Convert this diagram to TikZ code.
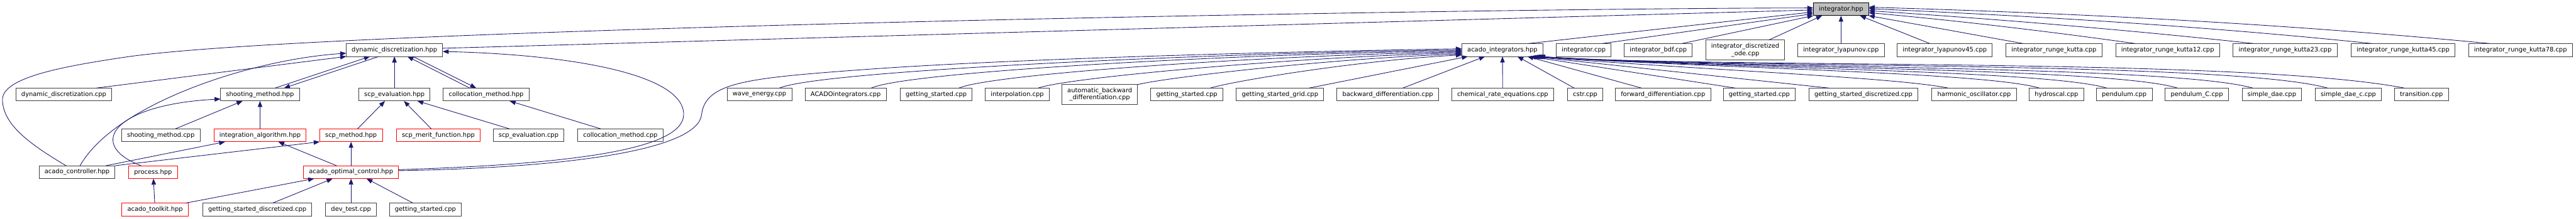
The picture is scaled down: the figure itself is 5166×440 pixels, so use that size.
\documentclass[tikz,border=0pt]{standalone}
\usepackage{fontspec}
\setmainfont{DejaVu Sans}
\usetikzlibrary{arrows.meta}
\definecolor{edgeblue}{RGB}{25,25,112}

\begin{document}
\begin{tikzpicture}[
        x=1pt, y=1pt,
        file/.style={
            rectangle,
            draw=black!75,
            fill=white,
            line width=1.2pt,
            align=center,
            font=\fontsize{12.5}{14.5}\selectfont,
            minimum height=26pt,
            inner xsep=11pt,
            inner ysep=2pt,
            outer sep=0pt
        },
        twoline/.style={file, minimum height=40pt},
        redfile/.style={file, draw=red},
        current/.style={file, draw=black, fill=black!25},
        dep/.style={
            draw=edgeblue,
            line width=1.1pt,
            -{Triangle[length=12pt,width=9pt]}
        }
    ]

        \useasboundingbox (0,0) rectangle (5166,440);

        \node[current] (integhpp) at (3692,421.5) {integrator.hpp};

        \node[file] (ddhpp) at (791,339.5) {dynamic\_discretization.hpp};
        \node[file] (aihpp) at (3013,339.5) {acado\_integrators.hpp};
        \node[file] (icpp) at (3176,339.5) {integrator.cpp};
        \node[file] (ibdfcpp) at (3325.5,339.5) {integrator\_bdf.cpp};
        \node[twoline] (idodecpp) at (3500,339.5) {integrator\_discretized\\\_ode.cpp};
        \node[file] (ilyacpp) at (3692,339.5) {integrator\_lyapunov.cpp};
        \node[file] (ilya45cpp) at (3900,339.5) {integrator\_lyapunov45.cpp};
        \node[file] (irkcpp) at (4119,339.5) {integrator\_runge\_kutta.cpp};
        \node[file] (irk12cpp) at (4347,339.5) {integrator\_runge\_kutta12.cpp};
        \node[file] (irk23cpp) at (4582.5,339.5) {integrator\_runge\_kutta23.cpp};
        \node[file] (irk45cpp) at (4819,339.5) {integrator\_runge\_kutta45.cpp};
        \node[file] (irk78cpp) at (5054.5,339.5) {integrator\_runge\_kutta78.cpp};

        \node[file] (ddcpp) at (128,250) {dynamic\_discretization.cpp};
        \node[file] (smhpp) at (521.5,250) {shooting\_method.hpp};
        \node[file] (sehpp) at (791,250) {scp\_evaluation.hpp};
        \node[file] (cmhpp) at (975,250) {collocation\_method.hpp};
        \node[file] (wavecpp) at (1523,250) {wave\_energy.cpp};
        \node[file] (acadoicpp) at (1696,250) {ACADOintegrators.cpp};
        \node[file] (gsacpp) at (1877.5,250) {getting\_started.cpp};
        \node[file] (interpcpp) at (2040,250) {interpolation.cpp};
        \node[twoline] (abdcpp) at (2205.5,250) {automatic\_backward\\\_differentiation.cpp};
        \node[file] (gsbcpp) at (2380,250) {getting\_started.cpp};
        \node[file] (gsgridcpp) at (2567,250) {getting\_started\_grid.cpp};
        \node[file] (bdcpp) at (2783,250) {backward\_differentiation.cpp};
        \node[file] (chemcpp) at (3013.5,250) {chemical\_rate\_equations.cpp};
        \node[file] (cstrcpp) at (3179,250) {cstr.cpp};
        \node[file] (fdcpp) at (3335,250) {forward\_differentiation.cpp};
        \node[file] (gsccpp) at (3528,250) {getting\_started.cpp};
        \node[file] (gsdacpp) at (3737,250) {getting\_started\_discretized.cpp};
        \node[file] (harmcpp) at (3959,250) {harmonic\_oscillator.cpp};
        \node[file] (hydrocpp) at (4124,250) {hydroscal.cpp};
        \node[file] (pendcpp) at (4260,250) {pendulum.cpp};
        \node[file] (pendccpp) at (4405.5,250) {pendulum\_C.cpp};
        \node[file] (sdaecpp) at (4556,250) {simple\_dae.cpp};
        \node[file] (sdaeccpp) at (4709.5,250) {simple\_dae\_c.cpp};
        \node[file] (transcpp) at (4856,250) {transition.cpp};

        \node[file] (smcpp) at (322.5,168) {shooting\_method.cpp};
        \node[redfile] (iahpp) at (521.5,168) {integration\_algorithm.hpp};
        \node[redfile] (smethhpp) at (704,168) {scp\_method.hpp};
        \node[redfile] (smerithpp) at (879,168) {scp\_merit\_function.hpp};
        \node[file] (secpp) at (1060,168) {scp\_evaluation.cpp};
        \node[file] (cmcpp) at (1244,168) {collocation\_method.cpp};

        \node[file] (achpp) at (154.5,94) {acado\_controller.hpp};
        \node[redfile] (prochpp) at (307,94) {process.hpp};
        \node[redfile] (aochpp) at (704,94) {acado\_optimal\_control.hpp};

        \node[redfile] (atkhpp) at (311,19) {acado\_toolkit.hpp};
        \node[file] (gsdbcpp) at (516,19) {getting\_started\_discretized.cpp};
        \node[file] (devcpp) at (704,19) {dev\_test.cpp};
        \node[file] (gsdcpp) at (853,19) {getting\_started.cpp};

        \draw[dep] ([xshift=-22pt]achpp.north) .. controls (60,150) and (5,190) .. (5,240)
            .. controls (5,285) and (130,307) .. (250,325)
            .. controls (650,385) and (3036,424) .. ([yshift=2.5pt]integhpp.west);
        \draw[dep] ([yshift=3.5pt]ddhpp.east) -- ([yshift=-1.5pt]integhpp.west);
        \draw[dep] ([xshift=52pt]aihpp.north) -- ([yshift=-5.5pt]integhpp.west);
        \draw[dep] ([xshift=37pt]icpp.north) -- ([yshift=-9pt]integhpp.west);
        \draw[dep] ([xshift=47.5pt]ibdfcpp.north) -- (integhpp.south west);
        \draw[dep] ([xshift=47pt]idodecpp.north) -- ([xshift=-38pt]integhpp.south);
        \draw[dep] (ilyacpp) -- (integhpp);
        \draw[dep] ([xshift=-30pt]ilya45cpp.north) -- ([xshift=38pt]integhpp.south);
        \draw[dep] ([xshift=-62pt]irkcpp.north) -- (integhpp.south east);
        \draw[dep] ([xshift=-65pt]irk12cpp.north) .. controls +(-178,25) and +(178,-16) .. ([yshift=-7pt]integhpp.east);
        \draw[dep] ([xshift=-63pt]irk23cpp.north) .. controls +(-257,28) and +(257,-17) .. ([yshift=-3pt]integhpp.east);
        \draw[dep] ([xshift=-62pt]irk45cpp.north) .. controls +(-336,35) and +(336,-15) .. ([yshift=1pt]integhpp.east);
        \draw[dep] ([xshift=-61.5pt]irk78cpp.north) .. controls +(-415,40) and +(415,-12) .. ([yshift=4pt]integhpp.east);

        \draw[dep] ([yshift=3pt]aochpp.east) .. controls (1150,103) and (1400,140) .. (1407,210)
            .. controls (1415,275) and (1500,283) .. (1730,300)
            .. controls (2000,320) and (2500,335) .. ([yshift=2.5pt]aihpp.west);
        \draw[dep] ([xshift=40pt]wavecpp.north) .. controls +(87,37) and +(-430,-4) .. (aihpp.west);
        \draw[dep] ([xshift=51pt]acadoicpp.north) .. controls +(80,35) and +(-400,-4) .. ([yshift=-2pt]aihpp.west);
        \draw[dep] ([xshift=45.5pt]gsacpp.north) .. controls +(70,30) and +(-350,-5) .. ([yshift=-4pt]aihpp.west);
        \draw[dep] ([xshift=42pt]interpcpp.north) .. controls +(60,22) and +(-300,-6) .. ([yshift=-6pt]aihpp.west);
        \draw[dep] (abdcpp.north east) .. controls +(60,15) and +(-250,-8) .. ([yshift=-8pt]aihpp.west);
        \draw[dep] ([xshift=47pt]gsbcpp.north) .. controls +(50,15) and +(-200,-10) .. ([yshift=-10pt]aihpp.west);
        \draw[dep] ([xshift=58pt]gsgridcpp.north) -- ([xshift=12pt]aihpp.south west);
        \draw[dep] ([xshift=30pt]bdcpp.north) -- ([xshift=-35pt]aihpp.south);
        \draw[dep] (chemcpp) -- (aihpp);
        \draw[dep] ([xshift=-22pt]cstrcpp.north) -- ([xshift=30pt]aihpp.south);
        \draw[dep] ([xshift=-43pt]fdcpp.north) -- ([xshift=50pt]aihpp.south);
        \draw[dep] ([xshift=-48pt]gsccpp.north) -- ([xshift=55pt]aihpp.south);
        \draw[dep] ([xshift=-69pt]gsdacpp.north) -- ([xshift=59pt]aihpp.south);
        \draw[dep] ([xshift=-52pt]harmcpp.north) .. controls (3800,285) and (3400,300) .. ([xshift=62pt]aihpp.south);
        \draw[dep] ([xshift=-34pt]hydrocpp.north) .. controls (3980,295) and (3450,302) .. ([xshift=64pt]aihpp.south);
        \draw[dep] ([xshift=-35pt]pendcpp.north) .. controls (4100,300) and (3450,302) .. ([xshift=66pt]aihpp.south);
        \draw[dep] ([xshift=-38.5pt]pendccpp.north) .. controls (4230,305) and (3450,302) .. ([xshift=68pt]aihpp.south);
        \draw[dep] ([xshift=-38pt]sdaecpp.north) .. controls (4350,310) and (3450,302) .. ([xshift=70pt]aihpp.south);
        \draw[dep] ([xshift=-41.5pt]sdaeccpp.north) .. controls (4470,318) and (3450,302) .. ([xshift=72pt]aihpp.south);
        \draw[dep] ([xshift=-34pt]transcpp.north) .. controls (4500,325) and (3450,302) .. ([xshift=74pt]aihpp.south);

        \draw[dep] ([xshift=6pt]achpp.north) .. controls (230,230) and (500,320) .. ([yshift=-6.5pt]ddhpp.west);
        \draw[dep] ([xshift=65pt]ddcpp.north) -- (ddhpp.south west);
        \draw[dep] ([xshift=-24pt]prochpp.north) .. controls (170,150) and (230,230) .. ([yshift=-9pt]smhpp.west);
        \draw[dep] ([xshift=29pt]smcpp.north) -- ([xshift=-35pt]smhpp.south);
        \draw[dep] ([xshift=58pt]achpp.north) -- ([xshift=-70pt]iahpp.south);
        \draw[dep] (achpp.north east) -- (smethhpp.south west);
        \draw[dep] (iahpp) -- (smhpp);
        \draw[dep] ([xshift=30pt]smhpp.north) -- ([xshift=-49pt]ddhpp.south);
        \draw[dep] ([xshift=-31pt]ddhpp.south) -- ([xshift=48pt]smhpp.north);
        \draw[dep] (sehpp) -- (ddhpp);
        \draw[dep] ([xshift=-33pt]cmhpp.north) -- ([xshift=26pt]ddhpp.south);
        \draw[dep] ([xshift=37pt]ddhpp.south) -- ([xshift=-20pt]cmhpp.north);
        \draw[dep] ([xshift=13pt]smethhpp.north) -- ([xshift=-19pt]sehpp.south);
        \draw[dep] ([xshift=-14pt]smerithpp.north) -- ([xshift=19pt]sehpp.south);
        \draw[dep] ([xshift=-38pt]secpp.north) -- ([xshift=46pt]sehpp.south);
        \draw[dep] ([xshift=-39pt]cmcpp.north) -- ([xshift=47pt]cmhpp.south);
        \draw[dep] ([xshift=-29pt]aochpp.north) -- ([xshift=36.5pt]iahpp.south);
        \draw[dep] (aochpp) -- (smethhpp);
        \draw[dep] ([yshift=5pt]aochpp.east) .. controls (1150,110) and (1371,140) .. (1371,210)
            .. controls (1371,290) and (1150,330) .. ([yshift=-3pt]ddhpp.east);
        \draw[dep] ([xshift=62pt]atkhpp.north) -- ([xshift=-74pt]aochpp.south);
        \draw[dep] ([xshift=31pt]gsdbcpp.north) -- ([xshift=-37pt]aochpp.south);
        \draw[dep] (devcpp) -- (aochpp);
        \draw[dep] ([xshift=-25pt]gsdcpp.north) -- ([xshift=31pt]aochpp.south);
        \draw[dep] (atkhpp) -- (prochpp);

    \end{tikzpicture}
\end{document}
